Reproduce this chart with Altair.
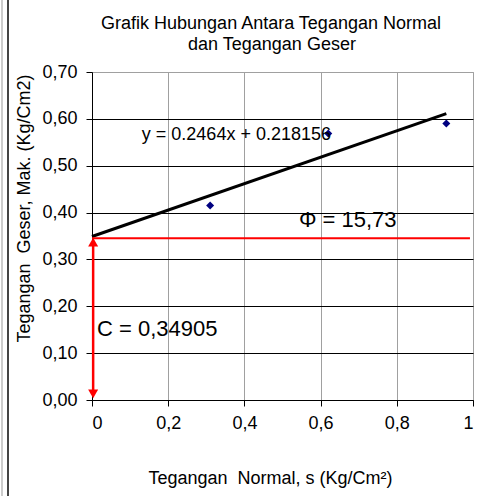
import altair as alt
import pandas as pd

# Data points (normal stress vs max shear stress)
sigma = [0.31, 0.62, 0.93]
tau = [0.415, 0.569, 0.590]

# Trend line
trend_x = [0.0, 0.93]
trend_y = [0.349, 0.611]

# Red construction lines
c_line_x = [0.0, 0.992]
c_line_y = [0.345, 0.345]
arrow_x = [0.003, 0.003]
arrow_y = [0.013, 0.337]

x_ticks = [0, 0.2, 0.4, 0.6, 0.8, 1.0]
y_ticks = [0, 0.1, 0.2, 0.3, 0.4, 0.5, 0.6, 0.7]

labels_txt = ["y = 0.2464x + 0.218156", "\u03a6 = 15,73", "C = 0,34905"]
labels_x = [0.379, 0.543, 0.013]
labels_y = [0.555, 0.369, 0.137]

title_lines = ["Grafik Hubungan Antara Tegangan Normal", "dan Tegangan Geser"]

FONT = "Liberation Sans"

pts = pd.DataFrame({"s": sigma, "t": tau})
trend = pd.DataFrame({"s": trend_x, "t": trend_y})
hline = pd.DataFrame({"s": [c_line_x[0]], "s2": [c_line_x[1]], "t": [c_line_y[0]]})
vline = pd.DataFrame({"s": [arrow_x[0]], "t": [arrow_y[0]], "t2": [arrow_y[1]]})
arr_up = pd.DataFrame({"s": [arrow_x[1]], "t": [arrow_y[1]]})
arr_dn = pd.DataFrame({"s": [arrow_x[0]], "t": [arrow_y[0]]})

xscale = alt.Scale(domain=[0, 1], nice=False)
yscale = alt.Scale(domain=[0, 0.7], nice=False)

xaxis = alt.Axis(
    values=x_ticks,
    labelExpr="replace(format(datum.value, '.1~f'), '.', ',')",
    title="Tegangan\u00a0 Normal, s (Kg/Cm\u00b2)",
    titleX=178, titleY=83, titleBaseline="alphabetic",
    grid=True, gridColor="#a0a0a0", gridWidth=1,
    tickSize=6, labelPadding=8,
    labelFont=FONT, labelFontSize=18, labelColor="black",
    titleFont=FONT, titleFontSize=18, titleFontWeight="normal", titleColor="black",
    domainColor="black", tickColor="black",
)
yaxis = alt.Axis(
    values=y_ticks,
    labelExpr="replace(format(datum.value, '.2f'), '.', ',')",
    title="Tegangan\u00a0 Geser, Mak. (Kg/Cm2)",
    titleX=-63, titleY=136, titleBaseline="alphabetic",
    grid=True,
    gridColor=alt.condition("datum.value >= 0.69", alt.value("#a0a0a0"), alt.value("black")),
    tickSize=6, labelPadding=9,
    labelFont=FONT, labelFontSize=18, labelColor="black",
    titleFont=FONT, titleFontSize=18, titleFontWeight="normal", titleColor="black",
    domainColor="black", tickColor="black",
)

base_pts = alt.Chart(pts).mark_point(shape="diamond", filled=True, color="#000080", size=64, opacity=1).encode(
    x=alt.X("s:Q", scale=xscale, axis=xaxis),
    y=alt.Y("t:Q", scale=yscale, axis=yaxis),
)

trend_line = alt.Chart(trend).mark_line(color="black", strokeWidth=3).encode(
    x=alt.X("s:Q", scale=xscale), y=alt.Y("t:Q", scale=yscale)
)

h_red = alt.Chart(hline).mark_rule(color="#ff0000", strokeWidth=2).encode(
    x=alt.X("s:Q", scale=xscale), x2="s2:Q", y=alt.Y("t:Q", scale=yscale)
)
v_red = alt.Chart(vline).mark_rule(color="#ff0000", strokeWidth=2.5).encode(
    x=alt.X("s:Q", scale=xscale), y=alt.Y("t:Q", scale=yscale), y2="t2:Q"
)
up = alt.Chart(arr_up).mark_point(shape="triangle-up", filled=True, color="#ff0000", size=100, opacity=1).encode(
    x=alt.X("s:Q", scale=xscale), y=alt.Y("t:Q", scale=yscale)
)
dn = alt.Chart(arr_dn).mark_point(shape="triangle-down", filled=True, color="#ff0000", size=100, opacity=1).encode(
    x=alt.X("s:Q", scale=xscale), y=alt.Y("t:Q", scale=yscale)
)

eq = alt.Chart(pd.DataFrame({"s": [labels_x[0]], "t": [labels_y[0]], "txt": [labels_txt[0]]})).mark_text(
    font=FONT, fontSize=18, color="black", align="center", baseline="alphabetic"
).encode(x=alt.X("s:Q", scale=xscale), y=alt.Y("t:Q", scale=yscale), text="txt:N")

big = alt.Chart(pd.DataFrame({"s": labels_x[1:], "t": labels_y[1:], "txt": labels_txt[1:]})).mark_text(
    font=FONT, fontSize=22, color="black", align="left", baseline="alphabetic"
).encode(x=alt.X("s:Q", scale=xscale), y=alt.Y("t:Q", scale=yscale), text="txt:N")

title1 = alt.Chart(pd.DataFrame({"txt": [title_lines[0]]})).mark_text(
    font=FONT, fontSize=18, color="black", align="center", baseline="alphabetic"
).encode(x=alt.value(179), y=alt.value(-43), text="txt:N")
title2 = alt.Chart(pd.DataFrame({"txt": [title_lines[1]]})).mark_text(
    font=FONT, fontSize=18, color="black", align="center", baseline="alphabetic"
).encode(x=alt.value(180), y=alt.value(-22), text="txt:N")

frame_dark = alt.Chart(pd.DataFrame({"k": [0]})).mark_rule(color="#444444", strokeWidth=2).encode(
    x=alt.value(-84), y=alt.value(-72), y2=alt.value(424)
)
frame_light = alt.Chart(pd.DataFrame({"k": [0]})).mark_rule(color="#bbbbbb", strokeWidth=1.5).encode(
    x=alt.value(-90), y=alt.value(-72), y2=alt.value(424)
)

chart = alt.layer(
    frame_light, frame_dark, trend_line, h_red, v_red, up, dn, base_pts, eq, big, title1, title2
).properties(
    width=381,
    height=328,
    background="white",
    autosize=alt.AutoSizeParams(type="none"),
    padding={"left": 92, "top": 72, "right": 6, "bottom": 96},
).configure_view(
    stroke="#a0a0a0", strokeWidth=1
)

chart.save("out.html", embed_options={"renderer": "svg", "actions": False})
